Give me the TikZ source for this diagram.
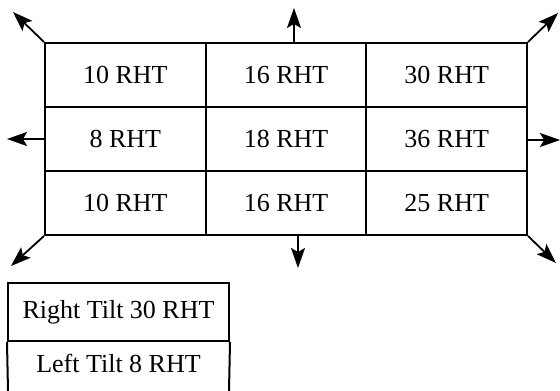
\documentclass[tikz,border=0pt]{standalone}
\usepackage{fontspec}
\setmainfont{Liberation Serif}
\usepackage{tikz}
\usetikzlibrary{arrows.meta}
\tikzset{
    cell/.style={draw, line width=2pt, minimum width=160.67pt, minimum height=64pt, inner sep=0pt},
    legcell/.style={minimum width=221pt, minimum height=58pt, inner sep=0pt}
}
\newcommand{\pusharrow}{\draw[-{Stealth[length=20pt, width=14pt, inset=4pt]}, line width=1.8pt]}

\begin{document}
\begin{tikzpicture}[x=1pt, y=-1pt, font=\fontsize{26}{30}\selectfont]
    \useasboundingbox (0,0) rectangle (560,391);

    % Draw grid
    \foreach \val [count=\k from 0] in {10,16,30,8,18,36,10,16,25} {
        \pgfmathtruncatemacro{\r}{div(\k,3)}
        \pgfmathtruncatemacro{\c}{mod(\k,3)}
        \node[cell] (c\r\c) at ({125.33+160.67*\c}, {75+64*\r}) {\val\ RHT};
    }

    % Arrow ends
    \coordinate (topfoot) at (294, 43);
    \coordinate (botfoot) at (298, 235);
    \coordinate (midL) at (45, 139);
    \coordinate (midR) at (527, 140);
    \coordinate (tipTL) at (13, 12);
    \coordinate (tipT) at (294, 8);
    \coordinate (tipTR) at (558, 13);
    \coordinate (tipL) at (7, 139);
    \coordinate (tipR) at (560, 140);
    \coordinate (tipBL) at (11, 266);
    \coordinate (tipB) at (298, 268);
    \coordinate (tipBR) at (556, 263);

    % Draw arrows
    \pusharrow (c00.north west) -- (tipTL);
    \pusharrow (topfoot) -- (tipT);
    \pusharrow (c02.north east) -- (tipTR);
    \pusharrow (midL) -- (tipL);
    \pusharrow (midR) -- (tipR);
    \pusharrow (c20.south west) -- (tipBL);
    \pusharrow (botfoot) -- (tipB);
    \pusharrow (c22.south east) -- (tipBR);

    % Legend
    \node[legcell, draw, line width=2pt] (leg1) at (118.5, 312) {Right Tilt 30 RHT};
    \node[legcell, minimum height=44pt] (leg2) at (118.5, 363) {Left Tilt 8 RHT};
    \coordinate (legendL) at (8, 391);
    \coordinate (legendR) at (229, 391);
    \draw[line width=2pt] (leg1.south west) -- (legendL);
    \draw[line width=2pt] (leg1.south east) -- (legendR);
\end{tikzpicture}
\end{document}
